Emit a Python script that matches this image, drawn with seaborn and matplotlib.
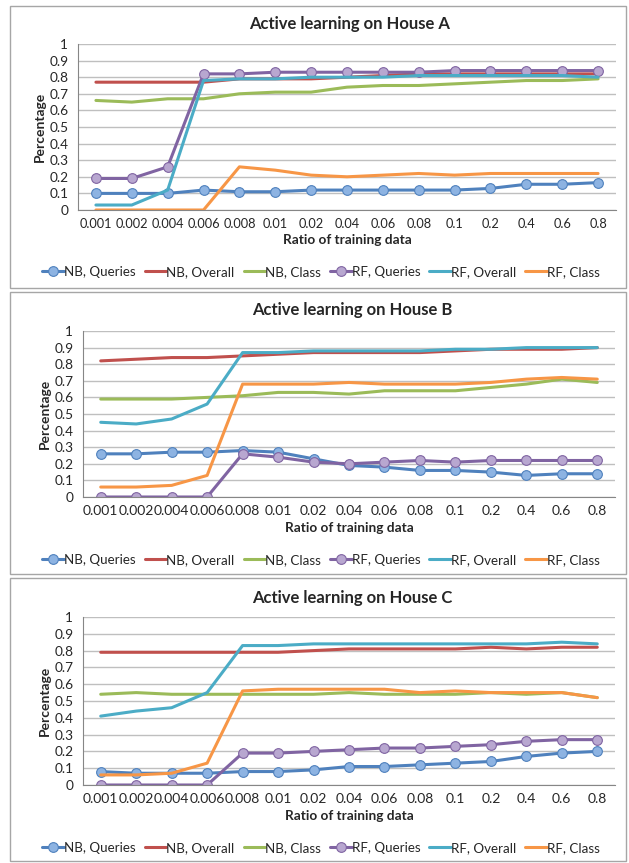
import numpy as np
import pandas as pd
import seaborn as sns
import matplotlib.pyplot as plt
from matplotlib.patches import Rectangle

# Active learning results, three houses
ratios = ['0.001', '0.002', '0.004', '0.006', '0.008', '0.01', '0.02', '0.04',
          '0.06', '0.08', '0.1', '0.2', '0.4', '0.6', '0.8']
series = ['NB, Queries', 'NB, Overall', 'NB, Class', 'RF, Queries', 'RF, Overall', 'RF, Class']

houseA_nb_queries = [0.10, 0.10, 0.10, 0.12, 0.11, 0.11, 0.12, 0.12, 0.12, 0.12, 0.12, 0.13, 0.155, 0.155, 0.165]
houseA_nb_overall = [0.77, 0.77, 0.77, 0.77, 0.79, 0.79, 0.79, 0.80, 0.81, 0.82, 0.82, 0.82, 0.82, 0.82, 0.82]
houseA_nb_class = [0.66, 0.65, 0.67, 0.67, 0.70, 0.71, 0.71, 0.74, 0.75, 0.75, 0.76, 0.77, 0.78, 0.78, 0.79]
houseA_rf_queries = [0.19, 0.19, 0.26, 0.82, 0.82, 0.83, 0.83, 0.83, 0.83, 0.83, 0.84, 0.84, 0.84, 0.84, 0.84]
houseA_rf_overall = [0.03, 0.03, 0.12, 0.78, 0.79, 0.79, 0.80, 0.80, 0.80, 0.81, 0.81, 0.81, 0.81, 0.81, 0.80]
houseA_rf_class = [0.0, 0.0, 0.0, 0.0, 0.26, 0.24, 0.21, 0.20, 0.21, 0.22, 0.21, 0.22, 0.22, 0.22, 0.22]

houseB_nb_queries = [0.26, 0.26, 0.27, 0.27, 0.28, 0.27, 0.23, 0.19, 0.18, 0.16, 0.16, 0.15, 0.13, 0.14, 0.14]
houseB_nb_overall = [0.82, 0.83, 0.84, 0.84, 0.85, 0.86, 0.87, 0.87, 0.87, 0.87, 0.88, 0.89, 0.89, 0.89, 0.90]
houseB_nb_class = [0.59, 0.59, 0.59, 0.60, 0.61, 0.63, 0.63, 0.62, 0.64, 0.64, 0.64, 0.66, 0.68, 0.71, 0.69]
houseB_rf_queries = [0.0, 0.0, 0.0, 0.0, 0.26, 0.24, 0.21, 0.20, 0.21, 0.22, 0.21, 0.22, 0.22, 0.22, 0.22]
houseB_rf_overall = [0.45, 0.44, 0.47, 0.56, 0.87, 0.87, 0.88, 0.88, 0.88, 0.88, 0.89, 0.89, 0.90, 0.90, 0.90]
houseB_rf_class = [0.06, 0.06, 0.07, 0.13, 0.68, 0.68, 0.68, 0.69, 0.68, 0.68, 0.68, 0.69, 0.71, 0.72, 0.71]

houseC_nb_queries = [0.08, 0.07, 0.07, 0.07, 0.08, 0.08, 0.09, 0.11, 0.11, 0.12, 0.13, 0.14, 0.17, 0.19, 0.20]
houseC_nb_overall = [0.79, 0.79, 0.79, 0.79, 0.79, 0.79, 0.80, 0.81, 0.81, 0.81, 0.81, 0.82, 0.81, 0.82, 0.82]
houseC_nb_class = [0.54, 0.55, 0.54, 0.54, 0.54, 0.54, 0.54, 0.55, 0.54, 0.54, 0.54, 0.55, 0.54, 0.55, 0.52]
houseC_rf_queries = [0.0, 0.0, 0.0, 0.0, 0.19, 0.19, 0.20, 0.21, 0.22, 0.22, 0.23, 0.24, 0.26, 0.27, 0.27]
houseC_rf_overall = [0.41, 0.44, 0.46, 0.55, 0.83, 0.83, 0.84, 0.84, 0.84, 0.84, 0.84, 0.84, 0.84, 0.85, 0.84]
houseC_rf_class = [0.06, 0.06, 0.07, 0.13, 0.56, 0.57, 0.57, 0.57, 0.57, 0.55, 0.56, 0.55, 0.55, 0.55, 0.52]

houses = {
    'A': [houseA_nb_queries, houseA_nb_overall, houseA_nb_class, houseA_rf_queries, houseA_rf_overall, houseA_rf_class],
    'B': [houseB_nb_queries, houseB_nb_overall, houseB_nb_class, houseB_rf_queries, houseB_rf_overall, houseB_rf_class],
    'C': [houseC_nb_queries, houseC_nb_overall, houseC_nb_class, houseC_rf_queries, houseC_rf_overall, houseC_rf_class],
}

colors = ['#4F81BD', '#C0504D', '#9BBB59', '#8064A2', '#4BACC6', '#F79646']
faces = ['#8DB3E2', None, None, '#B8A7D0', None, None]

sns.set_style('white')
plt.rcParams['font.family'] = ['Lato', 'DejaVu Sans']

W, H = 629, 863
fig = plt.figure(figsize=(W / 100, H / 100), dpi=100)

# pixel layout (from top): axes left/right/top/bottom, title y, legend y, panel box
layout = {
    'A': dict(l=78, r=616, t=44, b=210, title=24, leg=272, box=(10, 6, 626, 288), fs=9.2),
    'B': dict(l=83, r=615, t=331, b=497, title=310, leg=560, box=(10, 292, 626, 574), fs=10),
    'C': dict(l=83, r=615, t=617, b=785, title=598, leg=848, box=(10, 578, 626, 861), fs=10),
}

xpos = np.arange(len(ratios))

for name, vals in houses.items():
    lo = layout[name]
    bx0, by0, bx1, by1 = lo['box']
    fig.patches.append(Rectangle((bx0 / W, 1 - by1 / H), (bx1 - bx0) / W, (by1 - by0) / H,
                                 transform=fig.transFigure, fill=False, ec='#A6A6A6', lw=1.0))
    ax = fig.add_axes([lo['l'] / W, 1 - lo['b'] / H, (lo['r'] - lo['l']) / W, (lo['b'] - lo['t']) / H])

    for i, s in enumerate(series):
        df = pd.DataFrame({'x': xpos, 'y': vals[i]})
        kw = {}
        if faces[i] is not None:
            kw = dict(marker='o', markersize=7, markerfacecolor=faces[i], markeredgecolor=colors[i],
                      markeredgewidth=0.8)
        sns.lineplot(data=df, x='x', y='y', ax=ax, color=colors[i], linewidth=2.2, label=s, **kw)

    ax.set_xlim(-0.5, len(ratios) - 0.5)
    ax.set_ylim(0, 1)
    ax.set_yticks(np.arange(0, 1.01, 0.1))
    ax.set_yticklabels(['0', '0.1', '0.2', '0.3', '0.4', '0.5', '0.6', '0.7', '0.8', '0.9', '1'],
                       fontsize=9.8)
    ax.set_xticks(xpos)
    ax.set_xticklabels(ratios, fontsize=lo['fs'])
    ax.set_xticks(np.arange(-0.5, len(ratios)), minor=True)
    ax.tick_params(axis='x', which='major', length=0, pad=6)
    ax.tick_params(axis='x', which='minor', length=4, color='#868686', width=0.8)
    ax.tick_params(axis='y', length=4, color='#868686', width=0.8, pad=3)
    ax.grid(axis='y', color='#BFBFBF', lw=1.0)
    ax.set_axisbelow(True)
    for sp in ['top', 'right']:
        ax.spines[sp].set_visible(False)
    for sp in ['left', 'bottom']:
        ax.spines[sp].set_color('#868686')
        ax.spines[sp].set_linewidth(0.8)

    ax.set_xlabel('Ratio of training data', fontsize=9.8, fontweight='bold', labelpad=3)
    ax.set_ylabel('Percentage', fontsize=10, fontweight='bold', labelpad=2)
    fig.text(((lo['l'] + lo['r']) / 2 + 3) / W, 1 - lo['title'] / H, 'Active learning on House ' + name,
             ha='center', va='center', fontsize=12, fontweight='bold')

    handles, labels = ax.get_legend_handles_labels()
    ax.legend(handles, labels, loc='center', bbox_to_anchor=(321 / W, 1 - lo['leg'] / H),
              bbox_transform=fig.transFigure, ncol=6, frameon=False, fontsize=9.6,
              handlelength=1.6, handletextpad=0.0, columnspacing=0.7, borderaxespad=0)

fig.savefig('out.png', dpi=100)
